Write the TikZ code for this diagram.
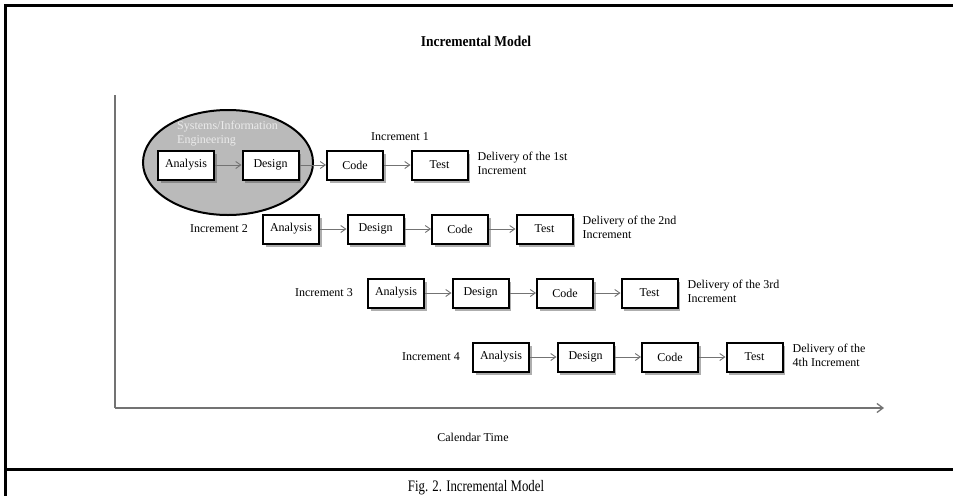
\documentclass[tikz,border=0pt]{standalone}
\usepackage{fontspec}
\setmainfont{Liberation Serif}
\usetikzlibrary{shadows,arrows.meta,shapes.geometric}
\begin{document}
\begin{tikzpicture}[x=1pt,y=-1pt,
  stage/.style={draw=black, line width=2pt, fill=white, minimum width=56pt, minimum height=29pt, inner sep=0pt,
    font=\fontsize{12}{14}\selectfont,
    drop shadow={shadow xshift=2.5pt, shadow yshift=-3pt, opacity=0.45, fill=black!70}},
  flow/.style={draw=black!55, line width=0.9pt, -{Straight Barb[length=5pt,width=7pt]}},
  lbl/.style={font=\fontsize{12}{14}\selectfont, inner sep=0pt},
  deliv/.style={lbl, align=left, anchor=west},
  axisline/.style={draw=black!55, line width=1.3pt},
  frame/.style={line width=3pt}]
\useasboundingbox (0,0) rectangle (953,496);
% frame
\coordinate (f1) at (953,5);
\coordinate (f2) at (5,5);
\coordinate (f3) at (5,496);
\coordinate (f4) at (5,469);
\coordinate (f5) at (953,469);
\draw[frame] (f1) -- (f2) -- (f3);
\draw[frame] (f4) -- (f5);
% title
\node[inner sep=0pt] (title) at (476,41) {\scalebox{0.9}[1]{\bfseries\fontsize{15}{17}\selectfont Incremental Model}};
% axes
\coordinate (ytop) at (115,95);
\coordinate (orig) at (115,408);
\coordinate (xend) at (884,408);
\draw[axisline] (ytop) -- (orig);
\draw[axisline, -{Straight Barb[length=6pt,width=9pt]}] (orig) -- (xend);
\node[lbl] (cal) at (473,437) {Calendar Time};
% caption
\node[anchor=base, inner sep=0pt] (cap) at (476,491) {\scalebox{0.8}[1]{\fontsize{16}{18}\selectfont Fig. 2. Incremental Model}};
% ellipse
\node[draw=black, line width=2pt, fill=black!27, ellipse, minimum width=170pt, minimum height=105pt, inner sep=0pt] (sys) at (228,162.5) {};
\node[font=\fontsize{12}{14}\selectfont, text=white!92!black, align=left, anchor=north west, inner sep=0pt] (systxt) at (177,121) {Systems/Information\\Engineering};
% rows
\foreach \r/\dl in {0/{Delivery of the 1st\\Increment},1/{Delivery of the 2nd\\Increment},2/{Delivery of the 3rd\\Increment},3/{Delivery of the\\4th Increment}}{
  \pgfmathsetmacro\xo{186+105*\r}
  \pgfmathsetmacro\yo{165+64*\r}
  \node[stage] (a\r) at (\xo,\yo) {Analysis};
  \node[stage] (d\r) at (\xo+84.5,\yo) {Design};
  \node[stage] (c\r) at (\xo+169,\yo) {Code};
  \node[stage] (t\r) at (\xo+253.5,\yo) {Test};
  \draw[flow] (a\r) -- (d\r);
  \draw[flow] (d\r) -- (c\r);
  \draw[flow] (c\r) -- (t\r);
  \node[deliv] (dl\r) at ([xshift=9pt,yshift=2pt]t\r.east) {\dl};
}
\node[lbl] (inc1) at (400,137) {Increment 1};
\node[lbl, anchor=east] (inc2) at ([xshift=-14pt]a1.west) {Increment 2};
\node[lbl, anchor=east] (inc3) at ([xshift=-14pt]a2.west) {Increment 3};
\node[lbl, anchor=east] (inc4) at ([xshift=-12pt]a3.west) {Increment 4};
\end{tikzpicture}
\end{document}
